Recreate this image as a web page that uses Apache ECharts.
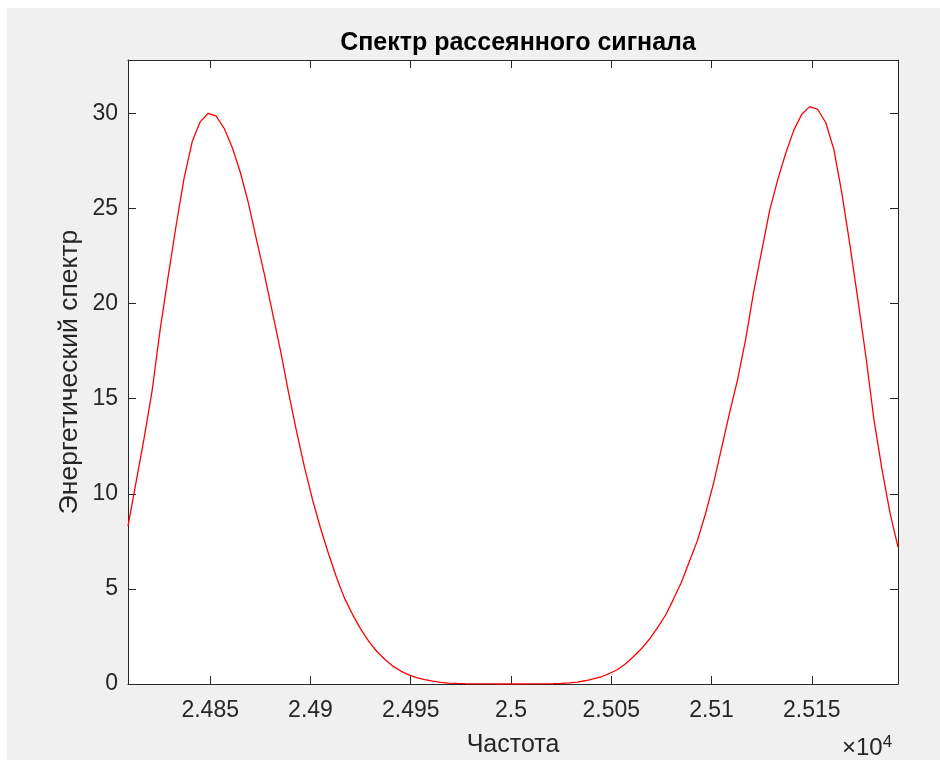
<!DOCTYPE html>
<html>
<head>
<meta charset="utf-8">
<script src="https://cdn.jsdelivr.net/npm/echarts@6/dist/echarts.min.js"></script>
<style>
html,body{margin:0;padding:0;background:#fff;}
#chart{width:940px;height:760px;}
</style>
</head>
<body>
<div id="chart"></div>
<script>
// Frequency samples (Hz) and energy-spectrum values
const freqs = [
  24809,24813,24817,24821,24825,24829,24833,24837,24841,24845,
  24849,24853,24857,24861,24865,24869,24873,24877,24881,24885,
  24889,24893,24897,24901,24905,24909,24913,24917,24921,24925,
  24929,24933,24937,24941,24945,24949,24953,24957,24961,24965,
  24969,24973,24977,24981,24985,24989,24993,24997,25001,25005,
  25009,25013,25017,25021,25025,25029,25033,25037,25041,25045,
  25049,25053,25057,25061,25065,25069,25073,25077,25081,25085,
  25089,25093,25097,25101,25105,25109,25113,25117,25121,25125,
  25129,25133,25137,25141,25145,25149,25153,25157,25161,25165,
  25169,25173,25177,25181,25185,25189,25193
];
const power = [
  8.3,10.6,12.9,15.4,18.6,21.4,24.1,26.6,28.5,29.55,
  30.0,29.85,29.2,28.2,26.9,25.3,23.4,21.55,19.55,17.55,
  15.35,13.3,11.4,9.7,8.2,6.85,5.6,4.5,3.65,2.9,
  2.25,1.72,1.3,0.94,0.68,0.48,0.34,0.23,0.15,0.09,
  0.05,0.03,0.015,0.008,0.004,0.002,0.001,0.0005,0.0005,0.001,
  0.002,0.004,0.008,0.016,0.03,0.055,0.1,0.17,0.27,0.38,
  0.55,0.75,1.05,1.43,1.85,2.35,2.95,3.6,4.45,5.35,
  6.45,7.55,8.95,10.55,12.4,14.25,16.0,18.1,20.6,22.75,
  24.9,26.5,27.9,29.1,29.95,30.35,30.2,29.5,28.1,25.8,
  23.1,20.2,17.2,13.9,11.3,9.0,7.2
];
const xTicks = [24850,24900,24950,25000,25050,25100,25150];
const yTicks = [0,5,10,15,20,25,30];
const xRange = [24809, 25193];
const yRange = [0, 32.8];

const titleText = 'Спектр рассеянного сигнала';
const xName = 'Частота';
const yName = 'Энергетический спектр';

const axisColor = '#262626';
const labelColor = '#262626';
const fontFamily = '"Liberation Sans", Arial, Helvetica, sans-serif';

const chart = echarts.init(document.getElementById('chart'), null, {renderer:'canvas'});

function xAxisDef(pos, showLabels){
  return {
    type:'value', position:pos, min:xRange[0], max:xRange[1],
    axisLine:{show:true, onZero:false, lineStyle:{color:axisColor, width:1}},
    axisTick:{show:true, inside:true, length:8, customValues:xTicks, lineStyle:{color:axisColor}},
    axisLabel:{show:showLabels, customValues:xTicks, margin:15, color:labelColor, fontSize:23, fontFamily:fontFamily,
      formatter:function(v){ return String(+(v/1e4).toFixed(4)); }},
    splitLine:{show:false}
  };
}
function yAxisDef(pos, showLabels){
  return {
    type:'value', position:pos, min:yRange[0], max:yRange[1],
    axisLine:{show:true, onZero:false, lineStyle:{color:axisColor, width:1}},
    axisTick:{show:true, inside:true, length:8, customValues:yTicks, lineStyle:{color:axisColor}},
    axisLabel:{show:showLabels, customValues:yTicks, margin:10, color:labelColor, fontSize:23, fontFamily:fontFamily},
    splitLine:{show:false}
  };
}

const option = {
  backgroundColor:'#ffffff',
  animation:false,
  textStyle:{fontFamily:fontFamily},
  title:{
    text:titleText, left:513, top:26, textAlign:'center',
    textStyle:{fontSize:25, fontWeight:'bold', color:'#000', fontFamily:fontFamily}
  },
  grid:{left:128, top:60, right:42, bottom:76, show:true, backgroundColor:'#ffffff', borderWidth:0},
  xAxis:[xAxisDef('bottom', true), xAxisDef('top', false)],
  yAxis:[yAxisDef('left', true), yAxisDef('right', false)],
  graphic:[
    {type:'rect', z:-10, silent:true, shape:{x:7, y:8, width:933, height:752}, style:{fill:'#f0f0f0'}},
    {type:'text', x:513, y:745, silent:true,
      style:{text:xName, fill:labelColor, font:'25px ' + fontFamily, textAlign:'center', textVerticalAlign:'middle'}},
    {type:'text', x:70, y:372, rotation:Math.PI/2, silent:true,
      style:{text:yName, fill:labelColor, font:'26.5px ' + fontFamily, textAlign:'center', textVerticalAlign:'middle'}},
    {type:'text', x:842, y:748, silent:true,
      style:{text:'{a|×10}{b|4}', textVerticalAlign:'middle',
        rich:{a:{fontSize:24, fontFamily:fontFamily, fill:labelColor, color:labelColor},
              b:{fontSize:17, fontFamily:fontFamily, fill:labelColor, color:labelColor, verticalAlign:'top', padding:[0,0,12,0]}}}}
  ],
  series:[{
    type:'line', xAxisIndex:0, yAxisIndex:0,
    data:freqs.map(function(f,i){ return [f, power[i]]; }),
    showSymbol:false, smooth:false,
    lineStyle:{color:'#ff0000', width:1.3},
    clip:true
  }]
};
chart.setOption(option);
</script>
</body>
</html>
